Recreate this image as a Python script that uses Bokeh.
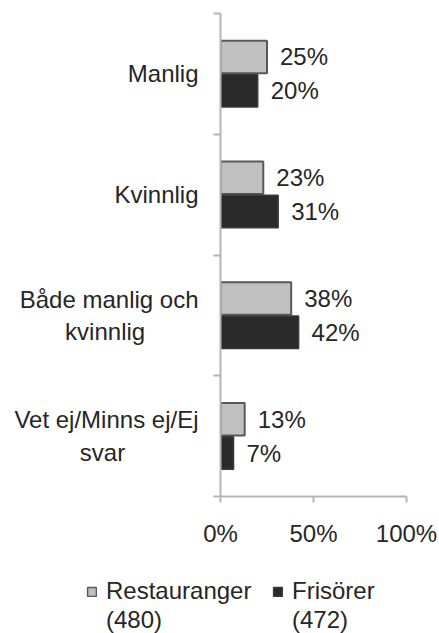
from bokeh.plotting import figure
from bokeh.models import ColumnDataSource, FixedTicker, Legend, LegendItem
from bokeh.core.properties import value
from bokeh.embed import file_html
from bokeh.resources import INLINE

NB = "\u00a0"
categories = ["Manlig", "Kvinnlig", "Både manlig och\nkvinnlig" + NB * 8,
              "Vet ej/Minns ej/Ej\nsvar" + NB * 11]
restauranger = [25, 23, 38, 13]
frisorer = [20, 31, 42, 7]
series_names = ["Restauranger", "Frisörer"]
series_counts = ["(480)", "(472)"]
x_ticks = [0, 50, 100]
x_tick_labels = ["0%", "50%", "100%"]

FONT = "Liberation Sans"
FS = "24px"
TXT = "#262626"
R_FILL, R_LINE = "#c0c0c0", "#595959"
F_FILL, F_LINE = "#2a2a2a", "#3a3a3a"
n = len(categories)
centers = [n - i - 0.5 for i in range(n)]

src_r = ColumnDataSource(dict(y=[c + 0.14 for c in centers], v=restauranger,
                              lab=[f"{v}%" for v in restauranger]))
src_f = ColumnDataSource(dict(y=[c - 0.14 for c in centers], v=frisorer,
                              lab=[f"{v}%" for v in frisorer]))

p = figure(width=439, height=555, x_range=(0, 100), y_range=(0, n),
           output_backend="svg", toolbar_location=None,
           min_border_left=220, min_border_right=33, min_border_top=13, min_border_bottom=59)
p.outline_line_color = None
p.xgrid.visible = False
p.ygrid.visible = False

p.hbar(y="y", right="v", left=0, height=0.27, source=src_r,
       fill_color=R_FILL, line_color=R_LINE, line_width=2)
p.hbar(y="y", right="v", left=0, height=0.27, source=src_f,
       fill_color=F_FILL, line_color=F_LINE, line_width=1.5)

for src in (src_r, src_f):
    p.text(x="v", y="y", text="lab", source=src, x_offset=13,
           text_align="left", text_baseline="middle",
           text_font=value(FONT), text_font_size=FS, text_color=TXT)

# x axis
p.xaxis.ticker = FixedTicker(ticks=x_ticks)
p.xaxis.major_label_overrides = {t: l for t, l in zip(x_ticks, x_tick_labels)}
p.xaxis.axis_line_color = "#b5b5b5"
p.xaxis.axis_line_width = 2
p.xaxis.major_tick_line_color = "#b5b5b5"
p.xaxis.major_tick_line_width = 2
p.xaxis.major_tick_out = 6
p.xaxis.major_tick_in = 0
p.xaxis.minor_tick_line_color = None
p.xaxis.major_label_text_font = FONT
p.xaxis.major_label_text_font_size = FS
p.xaxis.major_label_text_color = TXT
p.xaxis.major_label_standoff = 17

# y axis
p.yaxis.ticker = FixedTicker(ticks=centers, minor_ticks=list(range(n + 1)))
p.yaxis.major_label_overrides = {c: l for c, l in zip(centers, categories)}
p.yaxis.axis_line_color = "#b5b5b5"
p.yaxis.axis_line_width = 2
p.yaxis.major_tick_line_color = None
p.yaxis.minor_tick_line_color = "#b5b5b5"
p.yaxis.minor_tick_line_width = 2
p.yaxis.minor_tick_out = 7
p.yaxis.minor_tick_in = 0
p.yaxis.major_label_text_font = FONT
p.yaxis.major_label_text_font_size = FS
p.yaxis.major_label_text_color = TXT
p.yaxis.major_label_standoff = 15

# legend panel (separate root below the chart)
p2 = figure(width=439, height=78, x_range=(0, 100), y_range=(0, n),
            output_backend="svg", toolbar_location=None,
            x_axis_location=None, y_axis_location=None, min_border=0)
p2.outline_line_color = None
p2.xgrid.visible = False
p2.ygrid.visible = False
g1 = p2.hbar(y="y", right="v", left=0, height=0.27, source=src_r, visible=False,
             fill_color=R_FILL, line_color=R_LINE, line_width=1.5)
g2 = p2.hbar(y="y", right="v", left=0, height=0.27, source=src_f, visible=False,
             fill_color=F_FILL, line_color=F_LINE, line_width=1.5)
gd = p2.hbar(y="y", right="v", left=0, height=0.27, source=src_r, visible=False,
             fill_alpha=0, line_alpha=0)

legend = Legend(items=[LegendItem(label=series_names[0], renderers=[g1]),
                       LegendItem(label=series_names[1], renderers=[g2]),
                       LegendItem(label=series_counts[0], renderers=[gd]),
                       LegendItem(label=series_counts[1], renderers=[gd])],
                orientation="horizontal", ncols=2, location=(86, -1),
                label_text_font=FONT, label_text_font_size=FS, label_text_color=TXT,
                glyph_width=11, glyph_height=11, border_line_color=None,
                background_fill_alpha=0, label_width=165, inactive_fill_alpha=0,
                spacing=1, margin=0, padding=0, label_standoff=9)
p2.add_layout(legend, "center")

open("out.html", "w").write(file_html([p, p2], INLINE))
